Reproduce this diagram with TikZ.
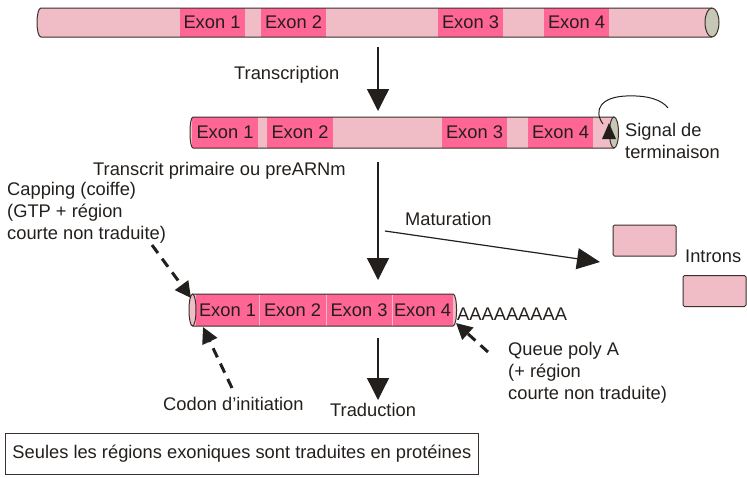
\documentclass[tikz,border=0pt]{standalone}
\usepackage{fontspec}
\setmainfont{Liberation Sans}
\usetikzlibrary{arrows.meta}
\definecolor{txt}{HTML}{231F1C}
\definecolor{intr}{HTML}{F0BCC6}
\definecolor{exn}{HTML}{FF6595}
\definecolor{capg}{HTML}{C7C7B7}
\definecolor{outl}{HTML}{3A302C}
\tikzset{
  lbl/.style={inner sep=0pt, text=txt, font=\fontsize{18.3}{22}\selectfont},
  exonbox/.style={lbl, fill=exn, minimum height=#1, minimum width=65pt},
  intronbox/.style={draw=outl, line width=1pt, fill=intr, rounded corners=1.5pt, minimum width=63pt, minimum height=31pt, inner sep=0pt},
  bigarrow/.style={draw=txt, line width=1.3pt, -{Triangle[length=22pt,width=22pt]}},
  dasharrow/.style={draw=txt, line width=3pt, dash pattern=on 10pt off 7pt, -{Triangle[length=16pt,width=16pt]}},
  barline/.style={draw=outl, line width=1pt}
}
\begin{document}
\begin{tikzpicture}[x=1pt,y=-1pt]
\useasboundingbox (0,0) rectangle (747,477);

% ---------- top bar (gene) ----------
\fill[intr] (41,8) -- (712,8) -- (712,37) -- (41,37) .. controls (35.7,37) and (35.7,8) .. (41,8) -- cycle;
\node[exonbox=29pt] (g1) at (212,22.5) {Exon 1};
\node[exonbox=29pt] (g2) at (293.5,22.5) {Exon 2};
\node[exonbox=29pt] (g3) at (470.5,22.5) {Exon 3};
\node[exonbox=29pt] (g4) at (576.5,22.5) {Exon 4};
\draw[barline] (712,8) -- (41,8) .. controls (35.7,8) and (35.7,37) .. (41,37) -- (712,37);
\draw[barline, fill=capg] (712,22.5) ellipse[x radius=7, y radius=14.5];

% ---------- transcription ----------
\coordinate (a1s) at (378,47);
\coordinate (a1e) at (378,111);
\draw[bigarrow] (a1s) -- (a1e);
\node[lbl, anchor=base west] (transcription) at (234,79) {Transcription};

% ---------- second bar (pre-mRNA) ----------
\fill[intr] (193,117) -- (614,117) -- (614,148) -- (193,148) .. controls (189,148) and (189,117) .. (193,117) -- cycle;
\node[exonbox=31pt, minimum width=66pt] (p1) at (225,132.5) {Exon 1};
\node[exonbox=31pt, minimum width=66pt] (p2) at (300,132.5) {Exon 2};
\node[exonbox=31pt] (p3) at (474.5,132.5) {Exon 3};
\node[exonbox=31pt] (p4) at (560.5,132.5) {Exon 4};
\draw[barline] (614,117) -- (193,117) .. controls (189,117) and (189,148) .. (193,148) -- (614,148);
\draw[barline, fill=capg] (614,132.5) ellipse[x radius=4.5, y radius=15.5];

% termination signal loop
\draw[draw=txt, line width=1pt] (603,124) .. controls (593,110) and (601,97) .. (626,96) .. controls (648,95) and (662,100) .. (668,108);
\fill[txt] (602,139) -- (616,139) -- (609,123) -- cycle;
\node[lbl, anchor=base west] (signal1) at (625,136) {Signal de};
\node[lbl, anchor=base west] (signal2) at (625,158) {terminaison};

\node[lbl, anchor=base west] (transcrit) at (93,175) {Transcrit primaire ou preARNm};

% ---------- maturation ----------
\coordinate (a2s) at (378,162);
\coordinate (a2e) at (378,280);
\draw[bigarrow] (a2s) -- (a2e);
\coordinate (ms) at (385,231);
\coordinate (me) at (600,262);
\draw[draw=txt, line width=1.2pt, -{Triangle[length=23pt,width=21pt]}] (ms) -- (me);
\node[lbl, anchor=base west] (maturation) at (405,225) {Maturation};
\node[intronbox] (i1) at (644.5,240.5) {};
\node[intronbox] (i2) at (714.5,291) {};
\node[lbl, anchor=base west] (introns) at (685,262) {Introns};

% ---------- capping ----------
\node[lbl, anchor=base west] (cap1) at (7,195) {Capping (coiffe)};
\node[lbl, anchor=base west] (cap2) at (7,217) {(GTP + région};
\node[lbl, anchor=base west] (cap3) at (7,239) {courte non traduite)};

% ---------- mature mRNA ----------
\fill[intr] (192.5,294) -- (453,294) .. controls (457.7,294) and (457.7,326) .. (453,326) -- (192.5,326) -- cycle;
\node[exonbox=32pt, minimum width=63pt] (m1) at (227.5,310) {Exon 1};
\node[exonbox=32pt, minimum width=67pt] (m2) at (292.5,310) {Exon 2};
\node[exonbox=32pt, minimum width=66pt] (m3) at (359,310) {Exon 3};
\node[exonbox=32pt, minimum width=61pt] (m4) at (422.5,310) {Exon 4};
\draw[intr, line width=0.8pt] (259,294.5) -- (259,325.5) (326,294.5) -- (326,325.5) (392,294.5) -- (392,325.5);
\draw[barline] (192.5,294) -- (453,294) .. controls (457.7,294) and (457.7,326) .. (453,326) -- (192.5,326);
\draw[barline, fill=intr] (192.5,310) ellipse[x radius=3.5, y radius=16];
\node[lbl, anchor=base west] (polyA) at (457,320) {AAAAAAAAA};

% ---------- dashed arrows ----------
\coordinate (c1s) at (152,245);
\coordinate (c1e) at (191,298);
\draw[dasharrow] (c1s) -- (c1e);
\coordinate (c2s) at (232,388);
\coordinate (c2e) at (203,327);
\draw[dasharrow] (c2s) -- (c2e);
\coordinate (c3s) at (488,352);
\coordinate (c3e) at (456,323);
\draw[dasharrow] (c3s) -- (c3e);

\node[lbl, anchor=base west] (codon) at (163,410) {Codon d’initiation};
\node[lbl, anchor=base west] (queue1) at (508,355) {Queue poly A};
\node[lbl, anchor=base west] (queue2) at (508,377) {(+ région};
\node[lbl, anchor=base west] (queue3) at (508,399) {courte non traduite)};

% ---------- traduction ----------
\coordinate (a3s) at (378,338);
\coordinate (a3e) at (378,400);
\draw[bigarrow] (a3s) -- (a3e);
\node[lbl, anchor=base west] (traduction) at (330,416) {Traduction};

% ---------- bottom box ----------
\node[draw=outl, line width=1pt, lbl, inner xsep=7pt, minimum height=41pt, anchor=west] (note) at (5,453.5) {Seules les régions exoniques sont traduites en protéines};
\end{tikzpicture}
\end{document}
